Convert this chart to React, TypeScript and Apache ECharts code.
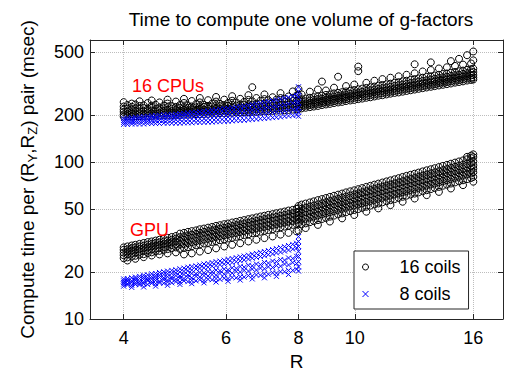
import React, { useEffect, useRef } from 'react';
import * as echarts from 'echarts';

const FONT = 'Liberation Sans, Arial, Helvetica, sans-serif';

const xTicks = [4, 6, 8, 10, 16];
const yTicks = [10, 20, 50, 100, 200, 500];
const xRange = [3.5, 18];
const yRange = [10, 600];

// Each row: [R, t1, t2, ...]  compute time (msec)
const cpu16: number[][] = [
  [4.00, 195, 201, 209, 216, 226, 241], [4.06, 196, 203, 210, 219, 231], [4.13, 195, 202, 208, 217, 225, 236],
  [4.19, 196, 204, 211, 220, 233], [4.26, 196, 202, 210, 218, 228, 244], [4.33, 197, 203, 212, 221, 230],
  [4.40, 197, 205, 211, 219, 238], [4.47, 197, 204, 213, 222, 229, 247], [4.54, 198, 203, 210, 218, 232],
  [4.61, 198, 206, 214, 223, 240], [4.69, 199, 205, 212, 220, 229], [4.76, 199, 207, 215, 224, 236, 250],
  [4.84, 199, 204, 211, 219, 227], [4.92, 200, 207, 216, 225, 243], [5.00, 200, 206, 213, 221, 231],
  [5.08, 201, 208, 215, 224, 238, 253], [5.16, 201, 207, 214, 222, 230], [5.24, 201, 209, 217, 226, 245],
  [5.33, 202, 208, 215, 223, 234], [5.41, 202, 210, 218, 227, 240, 256], [5.50, 203, 209, 216, 225, 232],
  [5.59, 203, 211, 219, 228, 248], [5.68, 204, 210, 217, 226, 236], [5.77, 204, 212, 220, 230, 243, 260],
  [5.86, 205, 211, 218, 227, 235], [5.96, 205, 213, 221, 231, 250], [6.05, 206, 212, 219, 228, 238],
  [6.15, 206, 214, 222, 232, 246, 263], [6.25, 207, 213, 220, 229, 240], [6.35, 207, 215, 223, 233, 253],
  [6.45, 208, 214, 222, 231, 242], [6.56, 208, 216, 224, 234, 249, 267], [6.66, 209, 215, 223, 232, 244, 300],
  [6.77, 209, 217, 225, 235, 256], [6.88, 210, 216, 224, 234, 246], [6.99, 211, 218, 226, 236, 252, 270],
  [7.10, 211, 219, 227, 237, 248], [7.22, 212, 219, 228, 238, 259], [7.33, 213, 220, 229, 239, 250],
  [7.45, 213, 221, 230, 240, 256, 275], [7.57, 214, 222, 231, 242, 253], [7.69, 215, 223, 232, 243, 262],
  [7.82, 216, 224, 233, 245, 257, 282], [7.94, 217, 225, 234, 246, 265], [8.00, 218, 226, 236, 248, 268, 292],
  [8.10, 220, 227, 234, 242, 251, 270], [8.23, 222, 229, 236, 244, 254], [8.37, 224, 231, 238, 247, 257, 281],
  [8.50, 226, 233, 240, 249, 259], [8.64, 228, 235, 243, 252, 262, 290], [8.78, 231, 238, 245, 254, 265, 326],
  [8.92, 233, 240, 248, 257, 268, 286], [9.06, 235, 242, 250, 259, 270], [9.21, 238, 245, 253, 262, 274, 298],
  [9.36, 240, 247, 255, 265, 276, 350], [9.51, 242, 250, 258, 267, 279], [9.66, 245, 252, 260, 270, 282, 305],
  [9.82, 247, 254, 263, 273, 285], [9.98, 249, 257, 265, 275, 288, 312], [10.14, 252, 259, 268, 278, 291, 380, 406],
  [10.30, 254, 262, 270, 281, 294], [10.47, 257, 264, 273, 284, 297, 320], [10.64, 259, 267, 276, 287, 300],
  [10.81, 262, 270, 279, 290, 303, 330], [10.98, 265, 273, 282, 293, 307], [11.16, 267, 275, 284, 296, 310, 338],
  [11.34, 270, 278, 287, 299, 313], [11.52, 273, 281, 290, 302, 316, 345], [11.71, 276, 284, 294, 306, 320],
  [11.90, 278, 287, 297, 309, 323, 352], [12.09, 281, 290, 300, 312, 327], [12.28, 284, 293, 303, 315, 330, 360],
  [12.48, 287, 296, 306, 319, 334], [12.68, 290, 299, 309, 322, 338, 368, 420], [12.88, 293, 302, 313, 326, 341],
  [13.09, 296, 305, 316, 329, 345, 378], [13.30, 299, 308, 319, 332, 349], [13.52, 302, 311, 322, 336, 352, 386, 432],
  [13.73, 305, 314, 326, 339, 356], [13.96, 308, 318, 329, 343, 360, 395], [14.18, 311, 321, 332, 347, 364],
  [14.41, 314, 324, 336, 350, 367, 402], [14.64, 317, 327, 339, 354, 371, 440], [14.88, 321, 331, 343, 358, 375, 410],
  [15.12, 324, 334, 346, 361, 379, 455], [15.36, 327, 337, 350, 365, 383, 418], [15.61, 331, 341, 353, 369, 387, 480],
  [15.86, 334, 344, 357, 372, 391, 425], [16.00, 336, 346, 359, 375, 394, 445, 507],
];

const cpu8: number[][] = [
  [4.00, 174, 179, 184, 190], [4.06, 174, 180, 185, 191], [4.13, 175, 180, 186, 192], [4.19, 175, 181, 187, 193],
  [4.26, 175, 181, 188, 194], [4.33, 175, 182, 188, 195], [4.40, 176, 182, 189, 196], [4.47, 176, 183, 190, 197],
  [4.54, 176, 183, 191, 198], [4.61, 176, 184, 191, 199], [4.69, 177, 184, 192, 200], [4.76, 177, 185, 193, 200],
  [4.84, 177, 185, 193, 201], [4.92, 177, 186, 194, 202], [5.00, 177, 186, 195, 203], [5.08, 178, 187, 196, 204],
  [5.16, 178, 187, 197, 206], [5.24, 178, 188, 197, 207], [5.33, 179, 188, 198, 208], [5.41, 179, 189, 199, 209],
  [5.50, 179, 189, 200, 211], [5.59, 180, 190, 201, 212], [5.68, 180, 191, 202, 214], [5.77, 181, 191, 203, 215],
  [5.86, 181, 192, 204, 217], [5.96, 182, 193, 205, 219], [6.05, 182, 194, 206, 220], [6.15, 183, 195, 208, 222],
  [6.25, 184, 196, 209, 224], [6.35, 184, 197, 211, 226], [6.45, 185, 198, 212, 228], [6.56, 186, 199, 214, 230],
  [6.66, 187, 200, 215, 232], [6.77, 188, 202, 217, 235], [6.88, 189, 203, 219, 237], [6.99, 190, 204, 221, 240],
  [7.10, 191, 206, 223, 243], [7.22, 192, 207, 225, 246], [7.33, 193, 209, 227, 249], [7.45, 194, 210, 230, 252],
  [7.57, 196, 212, 232, 256], [7.69, 197, 214, 235, 259], [7.82, 198, 216, 238, 263], [7.94, 200, 218, 240, 266],
  [8.00, 196, 208, 222, 240, 260, 282, 302],
];

const gpu16: number[][] = [
  [4.00, 24.4, 25.5, 26.5, 27.6, 28.6], [4.06, 24.7, 25.8, 26.9, 27.8, 29.0, 23.6], [4.13, 25.0, 26.1, 27.2, 28.3, 29.4],
  [4.19, 25.3, 26.4, 27.6, 28.6, 29.7, 24.2], [4.26, 25.7, 26.8, 27.9, 29.0, 30.1], [4.33, 25.9, 27.1, 28.3, 29.3, 30.5, 24.8],
  [4.40, 26.3, 27.4, 28.6, 29.8, 30.9], [4.47, 26.6, 27.7, 29.0, 30.1, 31.2, 25.4], [4.54, 27.0, 28.1, 29.3, 30.5, 31.6],
  [4.61, 27.2, 28.4, 29.7, 30.8, 32.0, 25.8], [4.69, 27.6, 28.8, 30.0, 31.2, 32.4], [4.76, 27.9, 29.2, 30.4, 31.6, 32.9, 26.2],
  [4.84, 28.3, 29.6, 30.8, 32.0, 33.3], [4.92, 28.6, 29.9, 31.2, 32.5, 33.8, 26.6], [5.00, 28.0, 29.8, 31.5, 33.2, 35.0],
  [5.08, 28.4, 30.1, 31.9, 33.6, 35.4, 25.8], [5.16, 28.7, 30.5, 32.3, 34.1, 35.9], [5.24, 29.1, 30.9, 32.7, 34.5, 36.3, 26.2],
  [5.33, 29.5, 31.3, 33.1, 34.9, 36.7], [5.41, 29.9, 31.7, 33.6, 35.4, 37.3, 26.9], [5.50, 30.3, 32.1, 34.0, 35.9, 37.7],
  [5.59, 30.6, 32.5, 34.4, 36.3, 38.2, 27.5], [5.68, 31.0, 32.9, 34.8, 36.7, 38.6], [5.77, 31.4, 33.4, 35.3, 37.2, 39.2, 28.2],
  [5.86, 31.8, 33.7, 35.7, 37.7, 39.6], [5.96, 32.2, 34.2, 36.2, 38.2, 40.2, 29.0], [6.05, 32.6, 34.6, 36.6, 38.6, 40.6],
  [6.15, 33.0, 35.1, 37.1, 39.1, 41.2, 29.7], [6.25, 33.4, 35.4, 37.5, 39.6, 41.6], [6.35, 33.8, 35.9, 38.0, 40.1, 42.2, 30.4],
  [6.45, 34.3, 36.4, 38.5, 40.6, 42.7], [6.56, 34.7, 36.9, 39.0, 41.1, 43.3, 31.2], [6.66, 35.2, 37.3, 39.5, 41.7, 43.8],
  [6.77, 35.6, 37.8, 40.0, 42.2, 44.4, 32.0], [6.88, 36.0, 38.3, 40.5, 42.7, 45.0], [6.99, 36.5, 38.7, 41.0, 43.3, 45.5, 32.8],
  [7.10, 36.9, 39.2, 41.5, 43.8, 46.1], [7.22, 37.4, 39.7, 42.0, 44.3, 46.6, 33.6], [7.33, 37.8, 40.2, 42.5, 44.8, 47.2],
  [7.45, 38.4, 40.7, 43.1, 45.5, 47.8, 34.5], [7.57, 38.8, 41.2, 43.6, 46.0, 48.4], [7.69, 39.3, 41.8, 44.2, 46.6, 49.1, 35.4],
  [7.82, 39.8, 42.2, 44.7, 47.2, 49.6], [7.94, 40.3, 42.8, 45.3, 47.8, 50.3, 36.2], [8.00, 40.8, 43.3, 45.8, 48.3, 50.8, 36.6, 52.5],
  [8.10, 40.1, 42.9, 45.2, 47.5, 50.3, 53.6], [8.23, 40.7, 43.5, 45.9, 48.2, 51.1, 54.4, 38.0], [8.37, 41.4, 44.3, 46.7, 49.1, 52.0, 55.3],
  [8.50, 42.1, 45.0, 47.4, 49.9, 52.8, 56.2], [8.64, 42.7, 45.7, 48.2, 50.7, 53.7, 57.2, 39.8], [8.78, 43.4, 46.5, 49.0, 51.5, 54.5, 58.1],
  [8.92, 44.1, 47.2, 49.8, 52.3, 55.4, 59.0], [9.06, 44.9, 48.0, 50.6, 53.2, 56.4, 60.0, 41.8], [9.21, 45.6, 48.8, 51.4, 54.1, 57.2, 61.0],
  [9.36, 46.4, 49.6, 52.3, 55.0, 58.2, 62.0], [9.51, 47.1, 50.4, 53.2, 55.9, 59.2, 63.0, 43.8], [9.66, 47.9, 51.2, 54.0, 56.8, 60.2, 64.1],
  [9.82, 48.7, 52.1, 54.9, 57.7, 61.1, 65.1], [9.98, 49.5, 52.9, 55.8, 58.7, 62.1, 66.1, 46.0], [10.14, 50.2, 53.7, 56.6, 59.6, 63.1, 67.2],
  [10.30, 51.1, 54.6, 57.6, 60.6, 64.2, 68.3], [10.47, 51.9, 55.6, 58.6, 61.6, 65.2, 69.5, 48.3], [10.64, 52.8, 56.5, 59.6, 62.6, 66.3, 70.6],
  [10.81, 53.7, 57.4, 60.5, 63.6, 67.4, 71.8], [10.98, 54.5, 58.3, 61.5, 64.7, 68.5, 72.9, 50.7], [11.16, 55.4, 59.2, 62.5, 65.7, 69.6, 74.1],
  [11.34, 56.3, 60.3, 63.5, 66.8, 70.7, 75.3], [11.52, 57.2, 61.2, 64.5, 67.8, 71.8, 76.5, 53.2], [11.71, 58.1, 62.2, 65.6, 69.0, 73.0, 77.7],
  [11.90, 59.1, 63.2, 66.6, 70.1, 74.2, 79.0], [12.09, 60.1, 64.3, 67.8, 71.3, 75.5, 80.4, 55.9], [12.28, 61.1, 65.3, 68.9, 72.4, 76.7, 81.7],
  [12.48, 62.1, 66.4, 70.0, 73.6, 78.0, 83.0], [12.68, 63.0, 67.4, 71.1, 74.8, 79.2, 84.3, 58.6], [12.88, 64.1, 68.5, 72.3, 76.0, 80.5, 85.7],
  [13.09, 65.2, 69.7, 73.5, 77.3, 81.9, 87.2], [13.30, 66.2, 70.8, 74.7, 78.5, 83.2, 88.6, 61.6], [13.52, 67.3, 72.0, 76.0, 79.9, 84.6, 90.0],
  [13.73, 68.4, 73.1, 77.1, 81.1, 85.9, 91.4], [13.96, 69.5, 74.3, 78.4, 82.4, 87.3, 92.9, 64.6], [14.18, 70.7, 75.6, 79.7, 83.8, 88.8, 94.5],
  [14.41, 71.8, 76.8, 81.0, 85.2, 90.2, 96.0], [14.64, 73.0, 78.1, 82.4, 86.6, 91.7, 97.6, 67.9], [14.88, 74.2, 79.4, 83.7, 88.0, 93.2, 99.2],
  [15.12, 75.4, 80.7, 85.1, 89.5, 94.7, 100.9], [15.36, 76.6, 82.0, 86.4, 90.9, 96.2, 102.5, 71.3], [15.61, 77.9, 83.4, 87.9, 92.4, 97.8, 104.2, 108],
  [15.86, 79.2, 84.7, 89.3, 93.9, 99.5, 105.9, 110], [16.00, 80.5, 86.1, 90.8, 95.5, 101.1, 107.6, 112, 75],
];

const gpu8: number[][] = [
  [4.00, 16.2, 16.7, 17.1, 17.5, 18.0], [4.06, 16.5, 16.8, 17.4, 17.7, 18.1], [4.13, 16.4, 17.1, 17.5, 18.3, 15.9],
  [4.19, 16.6, 17.0, 17.6, 18.0, 18.5], [4.26, 16.5, 16.9, 17.4, 18.1, 18.7], [4.33, 16.8, 17.2, 17.9, 18.4, 19.0, 16.0],
  [4.40, 16.6, 17.5, 17.8, 18.3, 19.1], [4.47, 16.9, 17.3, 18.0, 18.6, 19.4], [4.54, 16.8, 17.6, 18.2, 18.8, 19.5, 16.2],
  [4.61, 17.0, 17.4, 18.4, 19.0, 19.8], [4.69, 16.9, 17.8, 18.3, 19.2, 20.0], [4.76, 17.2, 17.7, 18.6, 19.4, 20.2, 16.4],
  [4.84, 17.0, 18.0, 18.5, 19.5, 20.4], [4.92, 17.3, 17.9, 18.9, 19.7, 20.6], [5.00, 17.2, 18.2, 18.8, 19.9, 20.9, 16.6],
  [5.08, 17.5, 18.1, 19.2, 20.1, 21.1], [5.16, 17.3, 18.4, 19.1, 20.3, 21.4], [5.24, 17.6, 18.3, 19.5, 20.5, 21.6, 16.8],
  [5.33, 17.5, 18.7, 19.4, 20.8, 21.8], [5.41, 17.8, 18.5, 19.8, 21.0, 22.1], [5.50, 17.6, 18.9, 19.7, 21.2, 22.4, 17.0],
  [5.59, 17.9, 18.8, 20.1, 21.4, 22.6], [5.68, 17.8, 19.2, 20.0, 21.7, 22.9], [5.77, 18.1, 19.0, 20.5, 21.9, 23.2, 17.2],
  [5.86, 17.9, 19.5, 20.3, 22.2, 23.4], [5.96, 18.2, 19.3, 20.8, 22.4, 23.7], [6.05, 18.1, 19.8, 20.6, 22.7, 24.0, 17.4],
  [6.15, 18.4, 19.6, 21.2, 22.9, 24.3], [6.25, 18.3, 20.1, 21.0, 23.2, 24.6], [6.35, 18.6, 19.9, 21.6, 23.5, 24.9, 17.7],
  [6.45, 18.5, 20.4, 21.4, 23.8, 25.2], [6.56, 18.9, 20.2, 22.0, 24.1, 25.5], [6.66, 18.8, 20.8, 21.8, 24.4, 25.9, 18.0],
  [6.77, 19.1, 20.5, 22.4, 24.7, 26.2], [6.88, 19.0, 21.1, 22.2, 25.0, 26.6], [6.99, 19.4, 20.9, 22.9, 25.3, 26.9, 18.3],
  [7.10, 19.3, 21.5, 22.7, 25.7, 27.3], [7.22, 19.7, 21.3, 23.4, 26.0, 27.7], [7.33, 19.6, 21.9, 23.2, 26.4, 28.1, 18.7],
  [7.45, 20.0, 21.7, 23.9, 26.7, 28.5], [7.57, 20.0, 22.4, 23.7, 27.1, 28.9], [7.69, 20.4, 22.1, 24.5, 27.5, 29.4, 19.2],
  [7.82, 20.4, 22.9, 24.3, 27.9, 29.9], [7.94, 20.8, 22.6, 25.1, 28.4, 30.4], [8.00, 21.5, 23.2, 25.0, 27.0, 29.0, 31.2, 33.5, 20.2],
];

const seriesNames = ['16 coils', '8 coils'];
const annotations = [
  { text: '16 CPUs', x: 132, y: 86 },
  { text: 'GPU', x: 130, y: 230 },
];

function toPoints(cols: number[][]): number[][] {
  const pts: number[][] = [];
  for (const c of cols) {
    for (let i = 1; i < c.length; i++) pts.push([Math.log10(c[0]), Math.log10(c[i])]);
  }
  return pts;
}

const CROSS = 'path://M0 0L10 10M10 0L0 10';

export default function App() {
  const ref = useRef<HTMLDivElement>(null);
  useEffect(() => {
    if (!ref.current) return;
    const chart = echarts.init(ref.current, undefined, { renderer: 'svg' });
    const xLog = xTicks.map(Math.log10);
    const yLog = yTicks.map(Math.log10);
    const fmt = (v: number) => String(Math.round(Math.pow(10, v)));
    const axisColor = '#262626';
    const baseX = {
      type: 'value',
      min: Math.log10(xRange[0]),
      max: Math.log10(xRange[1]),
      axisLine: { show: true, onZero: false, lineStyle: { color: axisColor, width: 1 } },
      axisTick: { show: true, inside: true, length: 5, customValues: xLog, lineStyle: { color: axisColor } },
    };
    const baseY = {
      type: 'value',
      min: Math.log10(yRange[0]),
      max: Math.log10(yRange[1]),
      axisLine: { show: true, onZero: false, lineStyle: { color: axisColor, width: 1 } },
      axisTick: { show: true, inside: true, length: 5, customValues: yLog, lineStyle: { color: axisColor } },
    };
    const option: any = {
      animation: false,
      backgroundColor: '#ffffff',
      textStyle: { fontFamily: FONT },
      title: {
        text: 'Time to compute one volume of g-factors',
        left: 296,
        top: 5,
        textAlign: 'center',
        textStyle: { fontSize: 19, fontWeight: 'normal', color: '#000', fontFamily: FONT },
      },
      grid: { left: 90, right: 6, top: 40, bottom: 52, containLabel: false, outerBoundsMode: 'none' },
      xAxis: [
        {
          ...baseX,
          position: 'bottom',
          axisLabel: { customValues: xLog, formatter: fmt, fontSize: 18, color: '#000', margin: 10, fontFamily: FONT },
          splitLine: { show: true, lineStyle: { type: 'dotted', color: '#bdbdbd', width: 1 } },
          name: 'R',
          nameLocation: 'middle',
          nameGap: 33,
          nameTextStyle: { fontSize: 19, color: '#000', fontFamily: FONT },
        },
        { ...baseX, position: 'top', axisLabel: { show: false }, splitLine: { show: false } },
      ],
      yAxis: [
        {
          ...baseY,
          position: 'left',
          axisLabel: { customValues: yLog, formatter: fmt, fontSize: 18, color: '#000', margin: 6, fontFamily: FONT },
          splitLine: { show: true, lineStyle: { type: 'dotted', color: '#bdbdbd', width: 1 } },
          name: '{n|Compute time per (R}{s|Y}{n|,R}{s|Z}{n|) pair (msec)}',
          nameLocation: 'middle',
          nameGap: 51,
          nameTextStyle: {
            color: '#000',
            fontFamily: FONT,
            rich: {
              n: { fontSize: 19, lineHeight: 21, verticalAlign: 'top', padding: [0, 0, 4, 0], color: '#000', fontFamily: FONT },
              s: { fontSize: 13, lineHeight: 14, verticalAlign: 'bottom', color: '#000', fontFamily: FONT },
            },
          },
        },
        { ...baseY, position: 'right', axisLabel: { show: false }, splitLine: { show: false } },
      ],
      legend: {
        left: 354,
        top: 251,
        orient: 'vertical',
        padding: [7, 8, 6, 8],
        itemGap: 9,
        itemWidth: 58,
        itemHeight: 6,
        borderColor: '#262626',
        borderWidth: 1,
        backgroundColor: '#ffffff',
        textStyle: { fontSize: 18, color: '#000', fontFamily: FONT },
        data: [
          { name: seriesNames[0], icon: 'circle', itemStyle: { color: 'rgba(0,0,0,0)', borderColor: '#000', borderWidth: 1 } },
          { name: seriesNames[1], icon: CROSS, itemStyle: { color: 'rgba(0,0,0,0)', borderColor: '#0000ff', borderWidth: 1 } },
        ],
      },
      graphic: annotations.map((a) => ({
        type: 'text',
        x: a.x,
        y: a.y,
        silent: true,
        z: 100,
        style: { text: a.text, fill: '#ff0000', fontSize: 18, fontFamily: FONT, verticalAlign: 'middle', align: 'left' },
      })),
      series: [
        {
          name: seriesNames[0],
          type: 'scatter',
          symbol: 'circle',
          symbolSize: 7,
          xAxisIndex: 0,
          yAxisIndex: 0,
          itemStyle: { color: 'rgba(0,0,0,0)', borderColor: '#000', borderWidth: 1, opacity: 1 },
          data: toPoints(cpu16).concat(toPoints(gpu16)),
        },
        {
          name: seriesNames[1],
          type: 'scatter',
          symbol: CROSS,
          symbolSize: 5,
          xAxisIndex: 0,
          yAxisIndex: 0,
          itemStyle: { color: 'rgba(0,0,0,0)', borderColor: '#0000ff', borderWidth: 1, opacity: 1 },
          data: toPoints(cpu8).concat(toPoints(gpu8)),
        },
      ],
    };
    chart.setOption(option);
    return () => chart.dispose();
  }, []);
  return <div ref={ref} style={{ width: 509, height: 371, position: 'absolute', left: 0, top: 0 }} />;
}
